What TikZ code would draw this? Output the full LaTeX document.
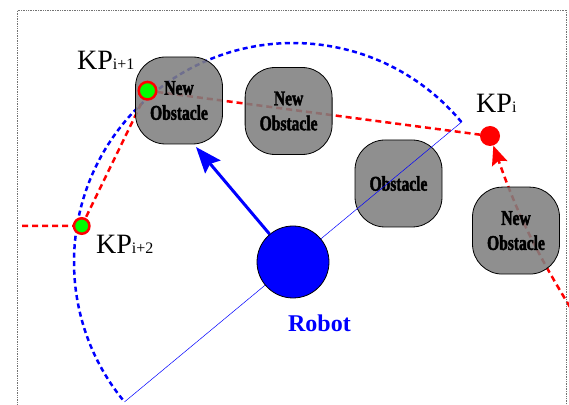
\documentclass[tikz,border=0pt]{standalone}
\usepackage{fontspec}
\setmainfont{Liberation Serif}
\newfontfamily\obstfont[FakeStretch=0.74, FakeBold=2]{Liberation Serif}
\usetikzlibrary{arrows.meta,calc}
\pgfdeclarelayer{background}
\pgfsetlayers{background,main}
\definecolor{obstgray}{RGB}{127,127,127}
\definecolor{pureblue}{RGB}{0,0,255}
\definecolor{purered}{RGB}{255,0,0}
\definecolor{puregreen}{RGB}{0,255,0}
\newcommand{\kplabel}[1]{{\fontsize{28}{28}\selectfont KP}{\fontsize{16}{16}\selectfont #1}}

\begin{document}
\begin{tikzpicture}[x=1pt,y=1pt,
  obstacle/.style={draw=black, line width=0.8pt, fill=obstgray, fill opacity=0.88, text opacity=1,
    rounded corners=30pt, minimum width=87pt, minimum height=87pt, inner sep=0pt, align=center,
    font=\obstfont\bfseries\fontsize{21}{25}\selectfont},
  kpmark/.style={circle, draw=purered, fill=puregreen, line width=2.5pt, inner sep=0pt},
  kpgoal/.style={circle, fill=purered, minimum size=20pt, inner sep=0pt},
  kptext/.style={inner sep=0pt, anchor=base west},
  redpath/.style={purered, line width=2.5pt, dash pattern=on 6pt off 4pt},
  scanarc/.style={pureblue, line width=2.5pt, dash pattern=on 5pt off 3.5pt}]
\useasboundingbox (0,0) rectangle (569,404);
% frame
\draw[black!55, densely dotted, line width=0.7pt] (17.5,-2) -- (17.5,394) -- (566.5,394) -- (566.5,-2);

\coordinate (rc) at (293,142);
\coordinate (scanL) at ($(rc)+(219.7:219)$);
\coordinate (scanR) at ($(rc)+(39.7:219)$);
\coordinate (west) at (22,178);
\coordinate (east) at (570,97);
\coordinate (tip) at (196,257);

% obstacles
\node[obstacle] (obsA) at (179,303.5) {New\\Obstacle};
\node[obstacle] (obsB) at (288.6,293) {New\\Obstacle};
\node[obstacle] (obsC) at (398.5,220.5) {Obstacle};
\node[obstacle] (obsD) at (516,173.4) {New\\Obstacle};

\draw[pureblue, line width=0.5pt] (scanL) -- (scanR);
\node[circle, fill=pureblue, draw=black, line width=0.8pt, minimum size=72pt, inner sep=0pt] (robot) at (rc) {};
\draw[pureblue, line width=3pt, -{Stealth[length=26pt, width=20pt, inset=4pt]}] (robot.130) -- (tip);
\node[font=\bfseries\fontsize{24}{24}\selectfont, text=pureblue, anchor=base, inner sep=0pt] (robotlabel) at (319.5,72.3) {Robot};

% key points
\node[kpgoal] (kpA) at (490,268) {};
\node[kpmark, minimum size=17.5pt] (kpB) at (147.5,313.3) {};
\node[kpmark, minimum size=15.5pt] (kpC) at (81.7,178) {};
\node[kptext] (kpAlabel) at (476,291.3) {\kplabel{i}};
\node[kptext] (kpBlabel) at (77,334.7) {\kplabel{i+1}};
\node[kptext] (kpClabel) at (96,150) {\kplabel{i+2}};

\begin{pgfonlayer}{background}
\draw[scanarc] (scanR) arc[start angle=39.7, end angle=219.7, radius=219];
\draw[redpath] (west) -- (kpC.center) -- (kpB.center) -- (kpA.center);
\draw[redpath, -{Stealth[length=19pt, width=16pt, inset=3pt]}] (east) to[bend left=6] (kpA);
\end{pgfonlayer}
\end{tikzpicture}
\end{document}
